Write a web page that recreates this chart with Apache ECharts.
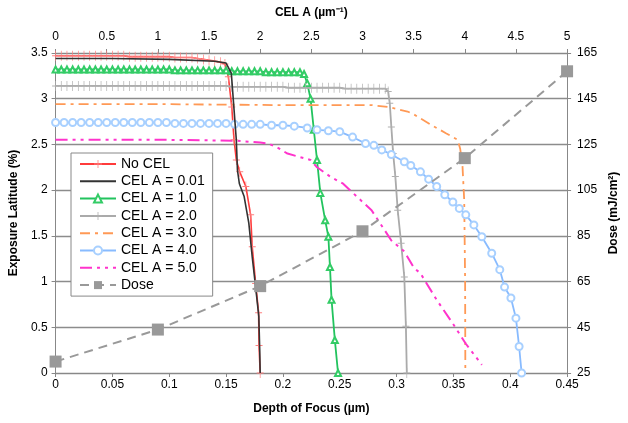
<!DOCTYPE html>
<html><head><meta charset="utf-8">
<script src="https://cdn.jsdelivr.net/npm/echarts@6/dist/echarts.min.js"></script>
<style>html,body{margin:0;padding:0;background:#fff}#c{width:628px;height:423px}</style>
</head><body><div id="c"></div>
<script>
// ---- data ----
const noCelX = [0,0.005,0.01,0.015,0.02,0.025,0.03,0.035,0.04,0.045,0.05,0.055,0.06,0.065,0.07,0.075,0.08,0.085,0.09,0.095,0.1,0.105,0.11,0.115,0.12,0.125,0.13,0.135,0.14,0.145,0.149,0.152,0.155,0.157,0.159,0.162,0.1674,0.1716,0.173,0.176,0.1786,0.179,0.18];
const noCelY = [3.47,3.47,3.47,3.47,3.47,3.47,3.47,3.47,3.47,3.47,3.47,3.47,3.47,3.46,3.46,3.46,3.46,3.46,3.46,3.46,3.46,3.45,3.45,3.45,3.45,3.44,3.43,3.42,3.41,3.40,3.38,3.24,2.91,2.55,2.33,2.2,2.04,1.73,1.38,0.98,0.66,0.3,0];

const cel001X = [0,0.05,0.1,0.14,0.15,0.1546,0.159,0.16,0.1617,0.1659,0.17,0.173,0.176,0.1788,0.1796,0.18];
const cel001Y = [3.44,3.44,3.43,3.41,3.39,3.28,2.55,2.22,2.07,1.93,1.64,1.27,0.94,0.62,0.25,0];

const cel1X = [0,0.005,0.01,0.015,0.02,0.025,0.03,0.035,0.04,0.045,0.05,0.055,0.06,0.065,0.07,0.075,0.08,0.085,0.09,0.095,0.1,0.105,0.11,0.115,0.12,0.125,0.13,0.135,0.14,0.145,0.15,0.155,0.16,0.165,0.17,0.175,0.18,0.185,0.19,0.195,0.2,0.205,0.21,0.215,0.2186,0.2214,0.2243,0.2272,0.23,0.2329,0.2372,0.24,0.2414,0.2428,0.2457,0.2485];
const cel1Y = [3.32,3.32,3.32,3.32,3.32,3.32,3.32,3.32,3.32,3.32,3.32,3.32,3.32,3.32,3.32,3.32,3.32,3.32,3.32,3.32,3.32,3.31,3.31,3.31,3.31,3.31,3.31,3.31,3.31,3.31,3.31,3.30,3.30,3.30,3.30,3.30,3.30,3.29,3.29,3.29,3.29,3.29,3.29,3.29,3.27,3.17,3.0,2.66,2.33,1.97,1.67,1.49,1.16,0.8,0.36,0];

const cel2X = [0,0.005,0.01,0.015,0.02,0.025,0.03,0.035,0.04,0.045,0.05,0.055,0.06,0.065,0.07,0.075,0.08,0.085,0.09,0.095,0.1,0.105,0.11,0.115,0.12,0.125,0.13,0.135,0.14,0.145,0.15,0.155,0.16,0.165,0.17,0.175,0.18,0.185,0.19,0.195,0.2,0.205,0.21,0.215,0.22,0.225,0.23,0.235,0.24,0.245,0.25,0.255,0.26,0.265,0.27,0.275,0.28,0.285,0.29,0.2926,0.294,0.2954,0.297,0.2989,0.301,0.304,0.3068,0.3082,0.309];
const cel2Y = [3.14,3.14,3.14,3.14,3.14,3.14,3.14,3.14,3.14,3.14,3.14,3.14,3.14,3.14,3.14,3.14,3.14,3.14,3.14,3.14,3.14,3.14,3.14,3.14,3.14,3.14,3.14,3.14,3.14,3.14,3.14,3.13,3.13,3.13,3.13,3.13,3.13,3.13,3.13,3.13,3.13,3.12,3.12,3.12,3.12,3.12,3.12,3.12,3.12,3.12,3.12,3.11,3.11,3.11,3.11,3.11,3.11,3.11,3.11,3.08,2.95,2.69,2.40,2.15,1.78,1.42,1.05,0.51,0];

const cel3X = [0,0.1,0.2,0.278,0.2926,0.3096,0.315,0.3296,0.3438,0.3538,0.356,0.358,0.3595,0.3603,0.3605];
const cel3Y = [2.94,2.94,2.93,2.93,2.91,2.86,2.83,2.72,2.62,2.55,2.45,2.26,1.89,1.0,0];

const cel4X = [0,0.0075,0.015,0.0225,0.03,0.0375,0.045,0.0525,0.06,0.0675,0.075,0.0825,0.09,0.0975,0.105,0.1125,0.12,0.1275,0.135,0.1425,0.15,0.1575,0.165,0.1725,0.18,0.19,0.2,0.21,0.2214,0.23,0.24,0.25,0.2613,0.2727,0.28,0.287,0.2954,0.3068,0.3125,0.321,0.3282,0.3353,0.3424,0.3495,0.3552,0.3609,0.368,0.375,0.3837,0.3908,0.395,0.4006,0.405,0.4078,0.41];
const cel4Y = [2.74,2.74,2.74,2.74,2.74,2.74,2.74,2.74,2.74,2.74,2.74,2.74,2.74,2.74,2.73,2.73,2.73,2.73,2.73,2.73,2.73,2.72,2.72,2.72,2.72,2.71,2.71,2.70,2.68,2.66,2.65,2.64,2.58,2.51,2.49,2.44,2.39,2.31,2.27,2.20,2.12,2.04,1.95,1.87,1.80,1.73,1.62,1.49,1.31,1.13,0.94,0.82,0.60,0.29,0];

const cel5X = [0,0.1,0.16,0.18,0.187,0.196,0.204,0.2243,0.23,0.2414,0.253,0.265,0.278,0.2954,0.3068,0.3153,0.321,0.3353,0.3495,0.3609,0.375];
const cel5Y = [2.55,2.55,2.54,2.52,2.51,2.46,2.40,2.33,2.25,2.15,2.07,1.93,1.78,1.45,1.33,1.15,1.09,0.80,0.54,0.32,0.09];

const doseCelA = [0,1,2,3,4,5];
const doseVal = [30,44,63,87,119,157];

const xTicksBottom = {min:0, max:0.45, interval:0.05};
const xTicksTop = {min:0, max:5, interval:0.5};
const yTicksLeft = {min:0, max:3.5, interval:0.5};
const yTicksRight = {min:25, max:165, interval:20};

function zip(xs, ys){ return xs.map((x,i)=>[x, ys[i]]); }

const plus = 'path://M4.5,0h1v4.5h4.5v1h-4.5v4.5h-1v-4.5h-4.5v-1h4.5z';
const FONT = 'Liberation Sans, Arial, sans-serif';
const axisCommon = {
  axisLine:{show:true, onZero:false, lineStyle:{color:'#888', width:1}},
  axisTick:{show:true, length:4, lineStyle:{color:'#888'}},
  axisLabel:{color:'#000', fontSize:12, fontFamily:FONT},
  nameTextStyle:{color:'#000', fontSize:12, fontWeight:'bold', fontFamily:FONT},
  splitLine:{show:false}
};

const chart = echarts.init(document.getElementById('c'), null, {renderer:'canvas'});
chart.setOption({
  animation:false,
  backgroundColor:'#fff',
  grid:{left:54, right:47, top:53, bottom:50},
  legend:{
    orient:'vertical', left:71, top:153,
    itemWidth:36, itemHeight:10, itemGap:3.3,
    padding:[4,8,4,8],
    borderColor:'#888', borderWidth:1, backgroundColor:'#fff',
    textStyle:{fontSize:14, color:'#000', fontFamily:FONT},
    data:['No CEL','CEL A = 0.01','CEL A = 1.0','CEL A = 2.0','CEL A = 3.0','CEL A = 4.0','CEL A = 5.0','Dose']
  },
  xAxis:[
    Object.assign({}, axisCommon, {type:'value', position:'bottom', ...xTicksBottom,
      name:'Depth of Focus (µm)', nameLocation:'middle', nameGap:30,
      axisLabel:Object.assign({}, axisCommon.axisLabel, {margin:6})}),
    Object.assign({}, axisCommon, {type:'value', position:'top', ...xTicksTop,
      name:'CEL A (µm⁻¹)', nameLocation:'middle', nameGap:34,
      axisLabel:Object.assign({}, axisCommon.axisLabel, {margin:10})})
  ],
  yAxis:[
    Object.assign({}, axisCommon, {type:'value', position:'left', ...yTicksLeft,
      name:'Exposure Latitude (%)', nameLocation:'middle', nameGap:33,
      axisLabel:Object.assign({}, axisCommon.axisLabel, {margin:8}),
      splitLine:{show:true, lineStyle:{color:'#8c8c8c', width:1.3}}}),
    Object.assign({}, axisCommon, {type:'value', position:'right', ...yTicksRight,
      name:'Dose (mJ/cm²)', nameLocation:'middle', nameGap:40,
      axisLabel:Object.assign({}, axisCommon.axisLabel, {margin:10})})
  ],
  series:[
    {name:'No CEL', type:'line', data:zip(noCelX,noCelY), symbol:plus, symbolSize:[7,10], showAllSymbol:true,
      itemStyle:{color:'#ff8080'}, lineStyle:{color:'#ff3b3b', width:1.6}, z:3},
    {name:'CEL A = 0.01', type:'line', data:zip(cel001X,cel001Y), showSymbol:false,
      itemStyle:{color:'#333', opacity:0}, lineStyle:{color:'#333', width:1.6}, z:4},
    {name:'CEL A = 1.0', type:'line', data:zip(cel1X,cel1Y), symbol:'emptyTriangle', symbolSize:6, showAllSymbol:true,
      itemStyle:{color:'#33cc66', borderWidth:1}, lineStyle:{color:'#22c35e', width:1.8}, z:3},
    {name:'CEL A = 2.0', type:'line', data:zip(cel2X,cel2Y), symbol:plus, symbolSize:[7,10], showAllSymbol:true,
      itemStyle:{color:'#b0b0b0'}, lineStyle:{color:'#aaaaaa', width:1.8}, z:3},
    {name:'CEL A = 3.0', type:'line', data:zip(cel3X,cel3Y), showSymbol:false,
      itemStyle:{color:'#ff9955', opacity:0}, lineStyle:{color:'#ff9955', width:1.8, type:[10,5,3,5]}, z:3},
    {name:'CEL A = 4.0', type:'line', data:zip(cel4X,cel4Y), symbol:'emptyCircle', symbolSize:7, showAllSymbol:true,
      itemStyle:{color:'#a8d0ff', borderWidth:1}, lineStyle:{color:'#88bbff', width:1.8}, z:3},
    {name:'CEL A = 5.0', type:'line', data:zip(cel5X,cel5Y), showSymbol:false,
      itemStyle:{color:'#ff33cc', opacity:0}, lineStyle:{color:'#ff33cc', width:2, type:[12,5,3,5,3,5]}, z:3},
    {name:'Dose', type:'line', xAxisIndex:1, yAxisIndex:1, data:zip(doseCelA,doseVal), symbol:'rect', symbolSize:12,
      itemStyle:{color:'#999'}, lineStyle:{color:'#999', width:2, type:[9,6]}, z:5}
  ]
});
</script></body></html>
